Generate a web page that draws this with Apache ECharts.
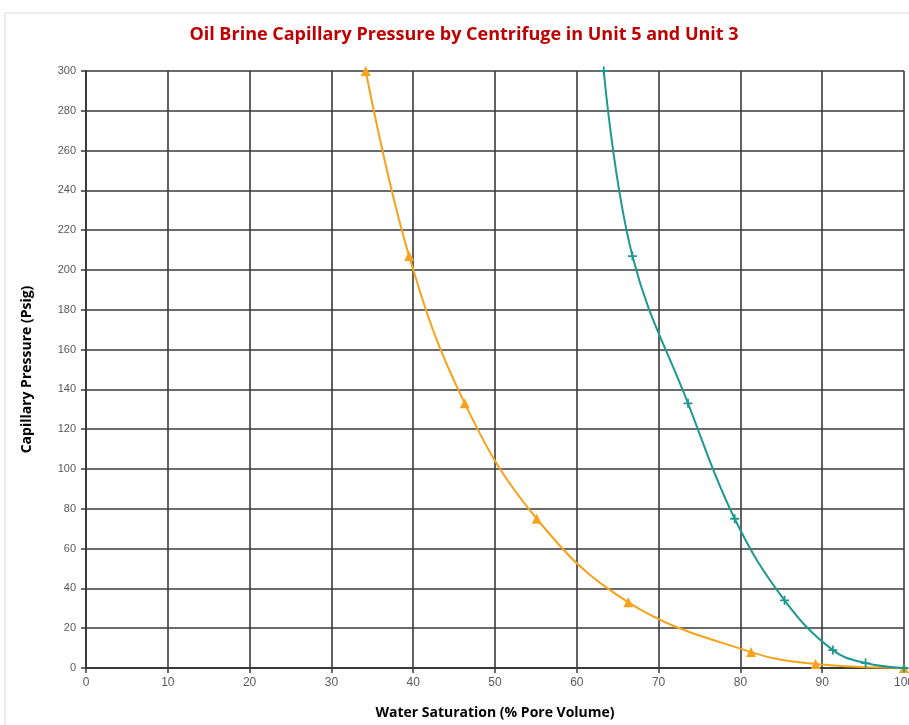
<!DOCTYPE html>
<html>
<head>
<meta charset="utf-8">
<script src="https://cdn.jsdelivr.net/npm/echarts@6/dist/echarts.min.js"></script>
<style>html,body{margin:0;padding:0;background:#fff}#c{width:909px;height:725px}</style>
</head>
<body>
<div id="c"></div>
<script>
const titleText = 'Oil Brine Capillary Pressure by Centrifuge in Unit 5 and Unit 3';
const xName = 'Water Saturation (% Pore Volume)';
const yName = 'Capillary Pressure (Psig)';
const unit5Sw = [34.2, 39.5, 46.3, 55.1, 66.3, 81.3, 89.2, 100];
const unit5Pc = [300, 207, 133, 75, 33, 8, 2, 0];
const unit3Sw = [63.3, 66.8, 73.6, 79.3, 85.4, 91.3, 95.3, 100];
const unit3Pc = [300, 207, 133, 75, 34, 9, 2.5, 0];

const plusPath = 'path://M4,0L6,0L6,4L10,4L10,6L6,6L6,10L4,10L4,6L0,6L0,4L4,4Z';
const chart = echarts.init(document.getElementById('c'));
chart.setOption({
  animation: false,
  backgroundColor: '#fff',
  graphic: [{type:'rect', shape:{x:5,y:13,width:910,height:720}, style:{fill:'none', stroke:'#d9d9d9', lineWidth:1}}],
  title: {text: titleText, left: 459, top: 21, textAlign: 'center',
    textStyle: {color: '#C00000', fontSize: 18, fontWeight: 'bold', fontFamily: 'Open Sans'}},
  grid: {left: 86, right: 5, top: 71, bottom: 57, containLabel: false, outerBoundsMode: 'none'},
  xAxis: {type: 'value', min: 0, max: 100, interval: 10,
    name: xName, nameLocation: 'middle', nameGap: 38,
    nameTextStyle: {fontFamily: 'Open Sans', fontWeight: 'bold', fontSize: 14, color: '#000'},
    axisLine: {lineStyle: {color: '#3a3a3a', width: 2}},
    axisTick: {show: true, length: 5, lineStyle: {color: '#3a3a3a', width: 1.5}},
    axisLabel: {color: '#595959', fontFamily: 'Liberation Sans', fontSize: 12, margin: 9},
    splitLine: {show: true, lineStyle: {color: '#3a3a3a', width: 1.6}}},
  yAxis: {type: 'value', min: 0, max: 300, interval: 20,
    name: yName, nameLocation: 'middle', nameGap: 52, nameRotate: 90,
    nameTextStyle: {fontFamily: 'Open Sans', fontWeight: 'bold', fontSize: 14, color: '#000'},
    axisLine: {show: true, lineStyle: {color: '#3a3a3a', width: 2}},
    axisTick: {show: true, length: 5, lineStyle: {color: '#3a3a3a', width: 1.5}},
    axisLabel: {color: '#595959', fontFamily: 'Liberation Sans', fontSize: 11, margin: 10},
    splitLine: {show: true, lineStyle: {color: '#3a3a3a', width: 1.6}}},
  series: [
    {name: 'Unit 5', type: 'line', smooth: 0.4, data: unit5Sw.map((x,i)=>[x, unit5Pc[i]]),
     symbol: 'triangle', symbolSize: 10, showAllSymbol: true,
     lineStyle: {color: '#F7A21B', width: 2}, itemStyle: {color: '#F7A21B'}},
    {name: 'Unit 3', type: 'line', smooth: 0.4, data: unit3Sw.map((x,i)=>[x, unit3Pc[i]]),
     symbol: plusPath, symbolSize: 9, showAllSymbol: true,
     lineStyle: {color: '#1E9892', width: 2}, itemStyle: {color: '#1E9892'}}
  ]
});
</script>
</body>
</html>
